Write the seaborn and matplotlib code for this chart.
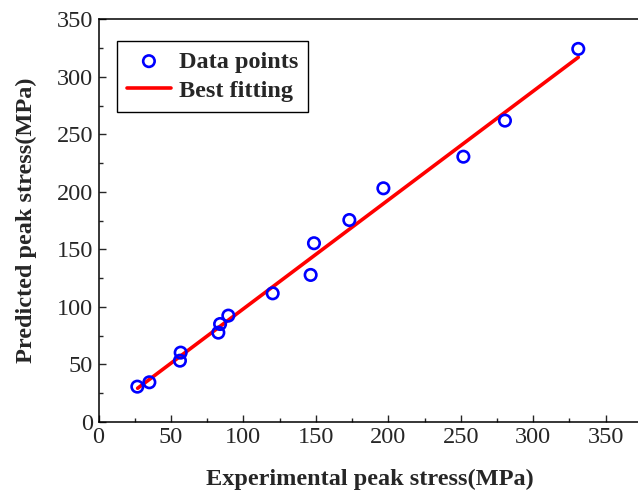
import numpy as np
import pandas as pd
import seaborn as sns
import matplotlib
matplotlib.use("Agg")
import matplotlib.pyplot as plt
from matplotlib.ticker import MultipleLocator

# Experimental vs predicted peak stress (MPa)
experimental = [26.8, 35.1, 56.2, 56.7, 82.7, 83.9, 89.6, 120.2, 146.4, 148.7,
                173.1, 196.6, 251.8, 280.5, 331.1]
predicted = [30.5, 34.3, 53.1, 60.1, 77.5, 85.0, 92.3, 111.7, 127.7, 155.3,
             175.5, 203.1, 230.6, 262.0, 324.4]

# end points of the fitted line
fit_x = [27.0, 331.1]
fit_y = [29.1, 317.1]

df = pd.DataFrame({"exp": experimental, "pred": predicted})
fit = pd.DataFrame({"x": fit_x, "y": fit_y})

sns.set_style("ticks")
plt.rcParams["font.family"] = ["Liberation Serif", "DejaVu Serif"]

fig = plt.figure(figsize=(6.38, 4.92), dpi=100)
ax = fig.add_axes([0.1544, 0.1429, 0.8517, 0.8175])

sns.lineplot(data=fit, x="x", y="y", color="red", linewidth=2.6,
             label="Best fitting", ax=ax)
sns.scatterplot(data=df, x="exp", y="pred", marker="o", s=68,
                facecolor="none", edgecolor="blue", linewidth=1.9,
                label="Data points", ax=ax, zorder=3)

ax.set_xlim(0, 375)
ax.set_ylim(0, 350)
ax.set_xticks(np.arange(0, 351, 50))
ax.set_yticks(np.arange(0, 351, 50))
ax.xaxis.set_minor_locator(MultipleLocator(25))
ax.yaxis.set_minor_locator(MultipleLocator(25))
ax.tick_params(which="major", direction="in", length=5, width=1,
               labelsize=17.5, pad=4)
ax.tick_params(which="minor", direction="in", length=3, width=1)
for s in ax.spines.values():
    s.set_linewidth(1.1)
    s.set_color("black")

ax.set_xlabel("Experimental peak stress(MPa)", fontsize=17.5,
              fontweight="bold", labelpad=15)
ax.set_ylabel("Predicted peak stress(MPa)", fontsize=17.5,
              fontweight="bold", labelpad=14)

handles, labels = ax.get_legend_handles_labels()
order = [labels.index("Data points"), labels.index("Best fitting")]
leg = ax.legend([handles[i] for i in order], [labels[i] for i in order],
                loc="upper left", bbox_to_anchor=(0.0346, 0.947),
                borderaxespad=0, fancybox=False, frameon=True,
                edgecolor="black", framealpha=1,
                prop={"family": "Liberation Serif", "weight": "bold", "size": 17.5},
                handlelength=1.8, handletextpad=0.35, labelspacing=0.3,
                borderpad=0.4)
leg.get_frame().set_linewidth(1.0)

fig.savefig("out.png", dpi=100)
